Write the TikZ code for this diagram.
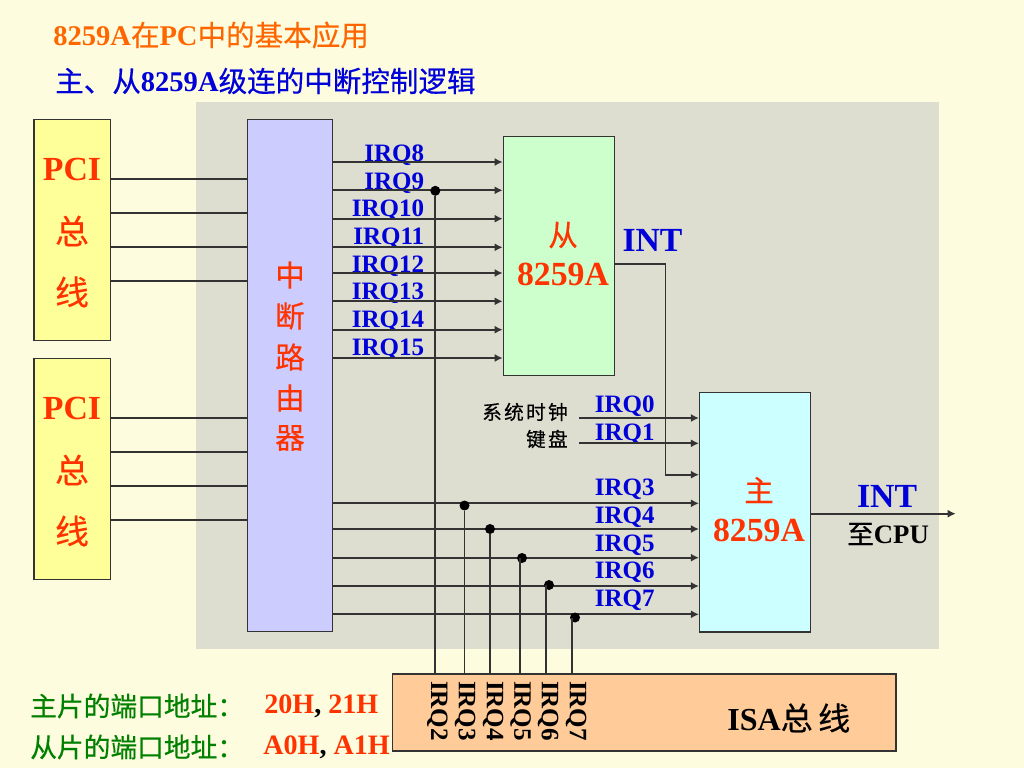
\documentclass[tikz,border=0pt]{standalone}
\usepackage{fontspec}
\setmainfont{Liberation Serif}
\newfontfamily\cjk[FakeBold=0.4]{Noto Sans CJK SC}
\newcommand{\zh}[1]{{\cjk\mdseries #1}}
\usetikzlibrary{positioning, arrows.meta}
\definecolor{pagebg}{HTML}{FDFCDE}
\definecolor{panelbg}{HTML}{DDDDD0}
\definecolor{busfill}{HTML}{FFFF99}
\definecolor{routerfill}{HTML}{CCCCFF}
\definecolor{slavefill}{HTML}{CCFFCC}
\definecolor{masterfill}{HTML}{CCFFFF}
\definecolor{isafill}{HTML}{FFCC99}
\definecolor{redtxt}{HTML}{FF3300}
\definecolor{bluetxt}{HTML}{0000D8}
\definecolor{greentxt}{HTML}{008000}
\definecolor{orangetxt}{HTML}{FF6600}
\definecolor{linecol}{HTML}{333333}
\tikzset{
  box/.style={draw=linecol, line width=0.9pt, inner sep=0pt, align=center},
  irqname/.style={inner sep=0pt, text=bluetxt, font=\bfseries\fontsize{17.8}{18}\selectfont},
  isaname/.style={inner sep=0pt, rotate=-90, font=\bfseries\fontsize{17.8}{18}\selectfont},
  bigred/.style={inner sep=0pt, text=redtxt, font=\bfseries\fontsize{24}{26}\selectfont},
  midred/.style={inner sep=0pt, text=redtxt, font=\fontsize{21}{22}\selectfont},
  bigblue/.style={inner sep=0pt, text=bluetxt, font=\bfseries\fontsize{24}{26}\selectfont},
  small/.style={inner sep=0pt, font=\bfseries\fontsize{14}{16}\selectfont},
  title/.style={inner sep=0pt, anchor=west, font=\bfseries\fontsize{20.3}{22}\selectfont},
  addr/.style={inner sep=0pt, anchor=west, font=\bfseries\fontsize{20}{21}\selectfont},
  dot/.style={circle, fill=black, inner sep=0pt, minimum size=0.25cm},
  wire/.style={draw=linecol, line width=1.15pt}
}
\begin{document}
\begin{tikzpicture}[x=0.025cm, y=-0.025cm, >={Latex[length=0.2cm,width=0.2cm]}]
        \useasboundingbox (0,0) rectangle (1024,768);
        \fill[pagebg] (0,0) rectangle (1024,768);
        \fill[panelbg] (196,102) rectangle (939,649);
        %---------------------------
        \node[title, text=orangetxt] (head1) at (53,35) {8259A\zh{在}PC\zh{中的基本应用}};
        \node[title, text=bluetxt] (head2) at (55,81) {\zh{主、从}8259A\zh{级连的中断控制逻辑}};
        %---------------------------
        \node[box, fill=busfill, minimum width=1.92cm, minimum height=5.54cm] (pci1) at (72.3,230) {};
        \node[box, fill=busfill, minimum width=1.92cm, minimum height=5.54cm] (pci2) at (72.3,469) {};
        \node[box, fill=routerfill, minimum width=2.13cm, minimum height=12.8cm] (router) at (290,375.3) {};
        \node[box, fill=slavefill, minimum width=2.785cm, minimum height=5.985cm] (slave) at (559,256) {};
        \node[box, fill=masterfill, minimum width=2.77cm, minimum height=5.98cm] (master) at (755,512.3) {};
        \node[box, fill=isafill, minimum width=12.59cm, minimum height=1.925cm] (isa) at (644.2,712.5) {};
        %---------------------------
        \node[bigred] (pci1a) at (72,169) {PCI};
        \node[bigred] (pci1b) at (72,231) {\zh{总}};
        \node[bigred] (pci1c) at (72,292) {\zh{线}};
        \node[bigred] (pci2a) at (72,408) {PCI};
        \node[bigred] (pci2b) at (72,470) {\zh{总}};
        \node[bigred] (pci2c) at (72,531) {\zh{线}};
        \node[midred] (r1) at (290,275) {\zh{中}};
        \node[midred] (r2) at (290,316) {\zh{断}};
        \node[midred] (r3) at (290,357) {\zh{路}};
        \node[midred] (r4) at (290,398) {\zh{由}};
        \node[midred] (r5) at (290,438) {\zh{器}};
        \node[midred] (s1) at (563,235) {\zh{从}};
        \node[bigred] (s2) at (563,274) {8259A};
        \node[midred] (m1) at (759,490) {\zh{主}};
        \node[bigred] (m2) at (759,530) {8259A};
        \node[bigblue] (sint) at (652.5,240) {INT};
        \node[bigblue] (mint) at (887,496) {INT};
        \node[small, font=\bfseries\fontsize{19}{20}\selectfont] (cpu) at (888,534) {\zh{至}CPU};
        %---------------------------
        \node[irqname, anchor=east] (q8) at (424.5,155) {IRQ8};
        \node[irqname, anchor=east] (q9) at (424.5,183) {IRQ9};
        \node[irqname, anchor=east] (q10) at (424.5,210) {IRQ10};
        \node[irqname, anchor=east] (q11) at (424.5,238) {IRQ11};
        \node[irqname, anchor=east] (q12) at (424.5,266) {IRQ12};
        \node[irqname, anchor=east] (q13) at (424.5,293) {IRQ13};
        \node[irqname, anchor=east] (q14) at (424.5,321) {IRQ14};
        \node[irqname, anchor=east] (q15) at (424.5,349) {IRQ15};
        \node[irqname, anchor=west] (q0) at (594.5,406) {IRQ0};
        \node[irqname, anchor=west] (q1) at (594.5,434) {IRQ1};
        \node[irqname, anchor=west] (q3) at (594.5,489) {IRQ3};
        \node[irqname, anchor=west] (q4) at (594.5,517) {IRQ4};
        \node[irqname, anchor=west] (q5) at (594.5,545) {IRQ5};
        \node[irqname, anchor=west] (q6) at (594.5,572) {IRQ6};
        \node[irqname, anchor=west] (q7) at (594.5,600) {IRQ7};
        \node[small, anchor=east] (clk) at (568,412) {\zh{系\kern1.6pt 统\kern1.6pt 时\kern1.6pt 钟}};
        \node[small, anchor=east] (kbd) at (568,439) {\zh{键\kern1.6pt 盘}};
        %---------------------------
        \node[isaname] (v2) at (437.5,711) {IRQ2};
        \node[isaname] (v3) at (465,711) {IRQ3};
        \node[isaname] (v4) at (493,711) {IRQ4};
        \node[isaname] (v5) at (520.5,711) {IRQ5};
        \node[isaname] (v6) at (548,711) {IRQ6};
        \node[isaname] (v7) at (576,711) {IRQ7};
        \node[inner sep=0pt, anchor=west, font=\bfseries\fontsize{22.8}{24}\selectfont] (isaname) at (727,718) {ISA\zh{总\,线}};
        %---------------------------
        \node[addr, text=greentxt, font=\fontsize{19}{20}\selectfont] (addr1) at (30,706) {\zh{主片的端口地址：}};
        \node[addr, text=greentxt, font=\fontsize{19}{20}\selectfont] (addr2) at (30,747) {\zh{从片的端口地址：}};
        \node[addr, text=redtxt] (val1) at (264,706) {20H\textcolor{black}{,} 21H};
        \node[addr, text=redtxt] (val2) at (263,747) {A0H\textcolor{black}{,} A1H};
        %---------------------------
        \coordinate (a1) at (110.7,179);
        \coordinate (a2) at (110.7,213.3);
        \coordinate (a3) at (110.7,247.3);
        \coordinate (a4) at (110.7,281.3);
        \coordinate (b1) at (110.7,418);
        \coordinate (b2) at (110.7,452);
        \coordinate (b3) at (110.7,486);
        \coordinate (b4) at (110.7,520);
        \path[every edge/.style=wire]
        (a1) edge (a1 -| router.west)
        (a2) edge (a2 -| router.west)
        (a3) edge (a3 -| router.west)
        (a4) edge (a4 -| router.west)
        (b1) edge (b1 -| router.west)
        (b2) edge (b2 -| router.west)
        (b3) edge (b3 -| router.west)
        (b4) edge (b4 -| router.west);
        %---------------------------
        \coordinate (l8) at (332.7,162);
        \coordinate (l9) at (332.7,190.3);
        \coordinate (l10) at (332.7,218.7);
        \coordinate (l11) at (332.7,247.3);
        \coordinate (l12) at (332.7,273);
        \coordinate (l13) at (332.7,301.3);
        \coordinate (l14) at (332.7,329.7);
        \coordinate (l15) at (332.7,358);
        \path[->, every edge/.style=wire]
        (l8) edge (l8 -| slave.west)
        (l9) edge (l9 -| slave.west)
        (l10) edge (l10 -| slave.west)
        (l11) edge (l11 -| slave.west)
        (l12) edge (l12 -| slave.west)
        (l13) edge (l13 -| slave.west)
        (l14) edge (l14 -| slave.west)
        (l15) edge (l15 -| slave.west);
        %---------------------------
        \coordinate (l0) at (579.3,418);
        \coordinate (l1) at (579.3,443.3);
        \coordinate (l3) at (332.7,503.3);
        \coordinate (l4) at (332.7,529);
        \coordinate (l5) at (332.7,557.7);
        \coordinate (l6) at (332.7,586);
        \coordinate (l7) at (332.7,614.3);
        \path[->, every edge/.style=wire]
        (l0) edge (l0 -| master.west)
        (l1) edge (l1 -| master.west)
        (l3) edge (l3 -| master.west)
        (l4) edge (l4 -| master.west)
        (l5) edge (l5 -| master.west)
        (l6) edge (l6 -| master.west)
        (l7) edge (l7 -| master.west);
        %---------------------------
        \coordinate (sout) at (614.7,264);
        \coordinate (bend1) at (665.3,264);
        \coordinate (bend2) at (665.3,474.7);
        \coordinate (cpuend) at (955.7,513.7);
        \draw[wire, ->] (sout) -- (bend1) -- (bend2) -- (bend2 -| master.west);
        \draw[wire, ->] (cpuend -| master.east) -- (cpuend);
        %---------------------------
        \node[dot] (d2) at (435.3,190.8) {};
        \node[dot] (d3) at (464.5,505.5) {};
        \node[dot] (d4) at (490,529) {};
        \node[dot] (d5) at (522,558) {};
        \node[dot] (d6) at (549,585) {};
        \node[dot] (d7) at (575,617.5) {};
        \coordinate (t5) at (520.3,558);
        \coordinate (t6) at (546,585);
        \coordinate (t7) at (571.7,617.5);
        \path[every edge/.style=wire]
        (d2) edge (d2 |- isa.north)
        (d3) edge (d3 |- isa.north)
        (d4) edge (d4 |- isa.north)
        (t5) edge (t5 |- isa.north)
        (t6) edge (t6 |- isa.north)
        (t7) edge (t7 |- isa.north);
\end{tikzpicture}
\end{document}
